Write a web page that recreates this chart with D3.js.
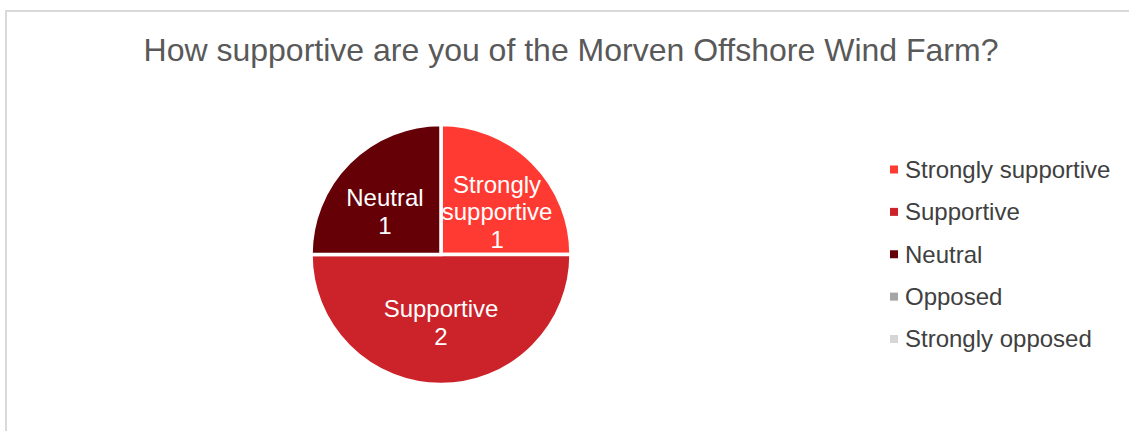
<!DOCTYPE html>
<html>
<head>
<meta charset="utf-8">
<script src="https://cdn.jsdelivr.net/npm/d3@7"></script>
<style>
  html, body { margin: 0; padding: 0; background: #fff; }
  svg { display: block; font-family: "Liberation Sans", Arial, sans-serif; }
</style>
</head>
<body>
<div id="chartContainer"></div>
<script>
const chartTitle = "How supportive are you of the Morven Offshore Wind Farm?";
const categories = ["Strongly supportive", "Supportive", "Neutral", "Opposed", "Strongly opposed"];
const counts = [1, 2, 1, 0, 0];
const sliceColors = ["#ff3a32", "#cc2229", "#650006", "#a5a5a5", "#d6d6d6"];

const width = 1129, height = 431;

const svg = d3.select("#chartContainer").append("svg")
    .attr("width", width)
    .attr("height", height);

// chart area border (runs off the right and bottom of the picture)
svg.append("rect")
    .attr("x", 6).attr("y", 11)
    .attr("width", width + 20).attr("height", height + 20)
    .attr("fill", "#fff")
    .attr("stroke", "#d9d9d9")
    .attr("stroke-width", 2);

svg.append("text")
    .attr("x", 571).attr("y", 61)
    .attr("text-anchor", "middle")
    .attr("font-size", 32)
    .attr("fill", "#595959")
    .text(chartTitle);

const data = categories.map((c, i) => ({ name: c, value: counts[i], color: sliceColors[i] }));

const radius = 130;
const pieG = svg.append("g").attr("transform", "translate(441,254.5)");

const pie = d3.pie().value(d => d.value).sort(null);
const arc = d3.arc().innerRadius(0).outerRadius(radius);
const labelArc = d3.arc().innerRadius(0).outerRadius(radius * 1.22);

const arcs = pie(data).filter(d => d.data.value > 0);

pieG.selectAll("path.slice")
    .data(arcs)
    .enter().append("path")
    .attr("class", "slice")
    .attr("d", arc)
    .attr("fill", d => d.data.color)
    .attr("stroke", "#fff")
    .attr("stroke-width", 3.5);

// data labels: category name (wrapped) + value
const lineH = 27.5;
arcs.forEach(d => {
    const [cx, cy] = labelArc.centroid(d);
    let lines = d.data.name.split(" ");
    if (lines.length === 1) lines = [d.data.name];
    lines.push(String(d.data.value));
    const y0 = cy * 0.82 - (lines.length - 1) * lineH / 2;
    const t = pieG.append("text")
        .attr("text-anchor", "middle")
        .attr("font-size", 24)
        .attr("fill", "#fff");
    lines.forEach((l, i) => {
        t.append("tspan")
            .attr("x", cx)
            .attr("y", y0 + i * lineH)
            .attr("dy", "0.48em")
            .text(l);
    });
});

// legend
const legendY = d3.scalePoint().domain(categories).range([169.5, 339]);
const legend = svg.append("g");
const rows = legend.selectAll("g.row")
    .data(data)
    .enter().append("g")
    .attr("class", "row")
    .attr("transform", d => `translate(890,${legendY(d.name)})`);

rows.append("rect")
    .attr("x", 0).attr("y", -4)
    .attr("width", 8).attr("height", 8)
    .attr("fill", d => d.color);

rows.append("text")
    .attr("x", 15)
    .attr("dy", "0.35em")
    .attr("font-size", 24)
    .attr("fill", "#404040")
    .text(d => d.name);
</script>
</body>
</html>
